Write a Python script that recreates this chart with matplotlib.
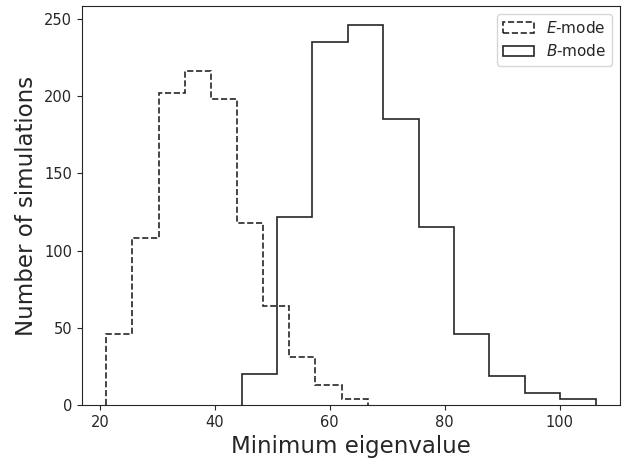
import numpy as np
import matplotlib
matplotlib.use("Agg")
import matplotlib.pyplot as plt
import seaborn as sns

# bin edges and counts
e_edges = [21.1, 25.65, 30.2, 34.75, 39.3, 43.85, 48.4, 52.95, 57.5, 62.05, 66.6]
e_counts = [46, 108, 202, 216, 198, 118, 64, 31, 13, 4]

b_edges = [44.66, 50.82, 56.98, 63.14, 69.3, 75.46, 81.62, 87.78, 93.94, 100.1, 106.26]
b_counts = [20, 122, 235, 246, 185, 115, 46, 19, 8, 4]

sns.set_style("ticks")
plt.rcParams['font.family'] = ['DejaVu Sans']

fig, ax = plt.subplots(figsize=(6.34, 4.62), dpi=100)
ax.hist(e_edges[:-1], bins=e_edges, weights=e_counts, histtype='step',
        color='#262626', linestyle='--', linewidth=1.2, label='$E$-mode')
ax.hist(b_edges[:-1], bins=b_edges, weights=b_counts, histtype='step',
        color='#262626', linestyle='-', linewidth=1.2, label='$B$-mode')

ax.set_xlabel("Minimum eigenvalue", fontsize=16.5)
ax.set_ylabel("Number of simulations", fontsize=16.5)
ax.tick_params(labelsize=10.5)
ax.legend(loc='upper right', fontsize=11)

fig.subplots_adjust(left=0.129, right=0.978, top=0.987, bottom=0.123)
plt.savefig("out.png", dpi=100)
